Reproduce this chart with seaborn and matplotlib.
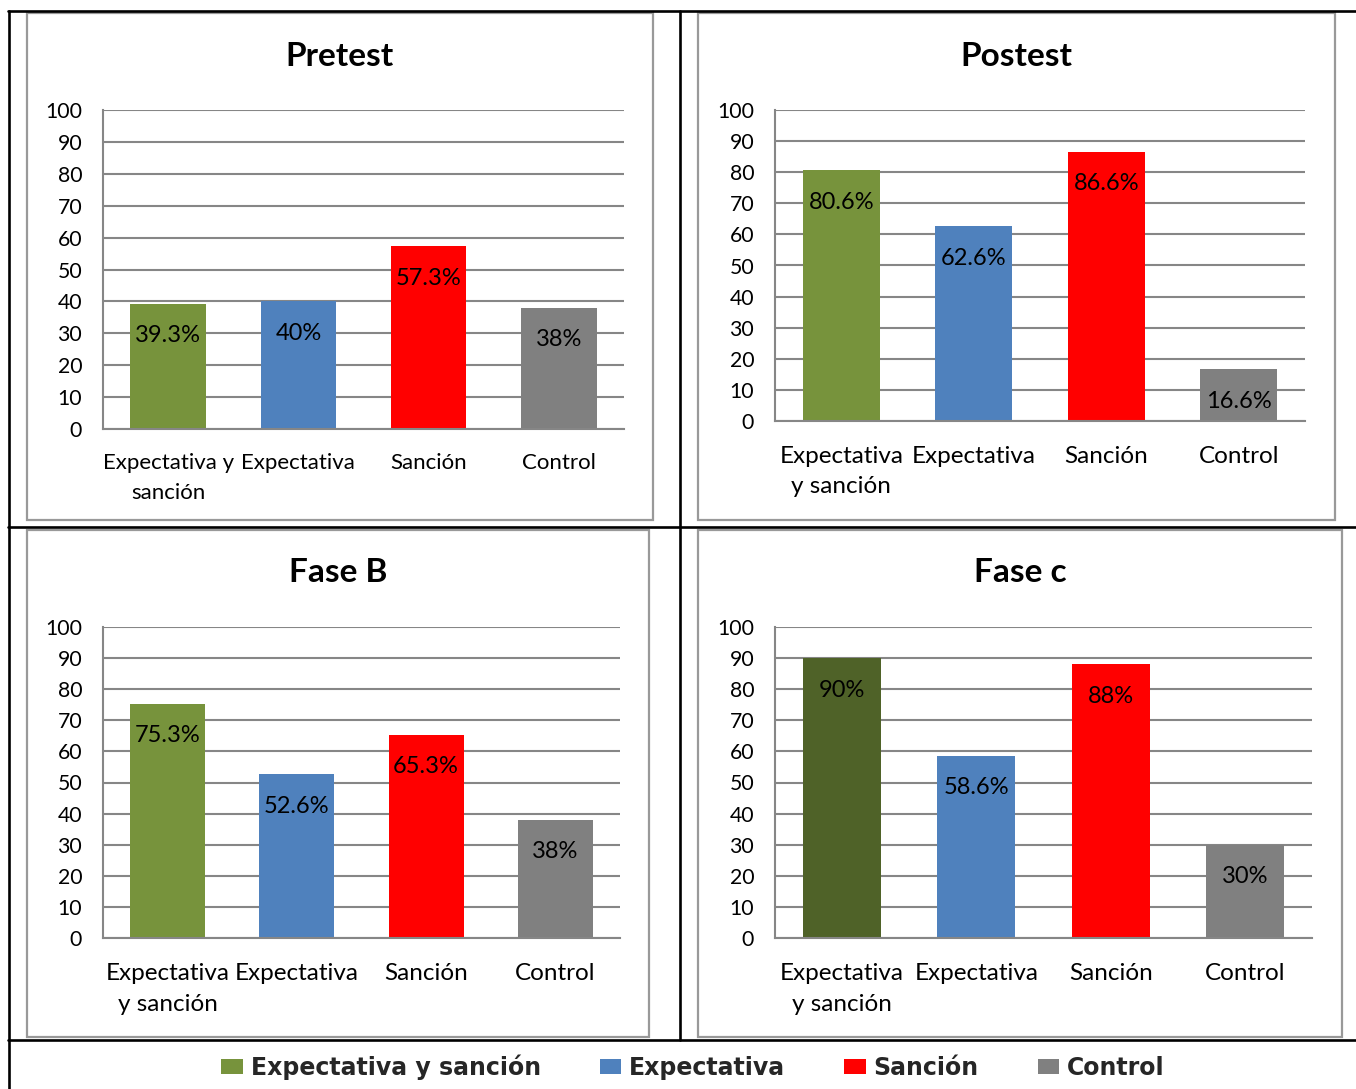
import matplotlib
matplotlib.use("Agg")
import matplotlib.pyplot as plt
from matplotlib.lines import Line2D
from matplotlib.patches import Rectangle, Patch
import seaborn as sns
import pandas as pd

# ---- data ----
groups = ["Expectativa y sanción", "Expectativa", "Sanción", "Control"]
pretest = [39.3, 40, 57.3, 38]
postest = [80.6, 62.6, 86.6, 16.6]
fase_b = [75.3, 52.6, 65.3, 38]
fase_c = [90, 58.6, 88, 30]

labels_pretest = ["Expectativa y\nsanción", "Expectativa", "Sanción", "Control"]
labels_other = ["Expectativa\ny sanción", "Expectativa", "Sanción", "Control"]
yticks = list(range(0, 101, 10))

colors = ["#77933C", "#4F81BD", "#FF0000", "#808080"]
colors_c = ["#4F6228", "#4F81BD", "#FF0000", "#808080"]

sns.set_theme(style="white")
plt.rcParams["font.family"] = ["Lato", "DejaVu Sans"]

W, H = 1356, 1089
fig = plt.figure(figsize=(W / 100, H / 100), dpi=100)
fig.patch.set_facecolor("white")


def fx(x):
    return x / W


def fy(y):
    return 1 - y / H


GRID = "#868686"

panels = [
    # title, values, tick labels, palette, plot box (x0, y0, x1, y1), frame box, title pos,
    # x tick size, x tick pad, line spacing
    ("Pretest", pretest, labels_pretest, colors, (103, 110, 624, 429), (27, 13, 653, 520), (340, 56), 16, 17, 1.62),
    ("Postest", postest, labels_other, colors, (775, 110, 1305, 421), (698, 13, 1335, 520), (1016, 56), 17.5, 18, 1.55),
    ("Fase B", fase_b, labels_other, colors, (103, 627, 620, 938), (27, 530, 649, 1037), (338, 573), 17.5, 18, 1.6),
    ("Fase c", fase_c, labels_other, colors_c, (775, 627, 1312, 938), (698, 530, 1342, 1037), (1020, 573), 17.5, 18, 1.6),
]

for title, vals, ticklabels, pal, box, frame, tpos, tsize, xpad, lsp in panels:
    # gray chart frame
    fig.patches.append(Rectangle((fx(frame[0]), fy(frame[3])),
                                 fx(frame[2]) - fx(frame[0]), fy(frame[1]) - fy(frame[3]),
                                 transform=fig.transFigure, fill=False,
                                 edgecolor="#999999", linewidth=1.6, zorder=1))
    ax = fig.add_axes([fx(box[0]), fy(box[3]), fx(box[2]) - fx(box[0]), fy(box[1]) - fy(box[3])])
    df = pd.DataFrame({"grupo": groups, "valor": vals})
    sns.barplot(data=df, x="grupo", y="valor", hue="grupo", palette=dict(zip(groups, pal)),
                order=groups, hue_order=groups, width=0.58, legend=False, ax=ax,
                edgecolor="none", saturation=1)
    ax.set_ylim(0, 100)
    ax.set_xlim(-0.5, 3.5)
    ax.set_yticks(yticks)
    ax.set_yticklabels([str(t) for t in yticks], fontsize=15.3)
    ax.set_xticks(range(4))
    ax.set_xticklabels(ticklabels, fontsize=tsize, linespacing=lsp)
    ax.tick_params(axis="y", length=0, pad=15, colors="black")
    ax.tick_params(axis="x", length=0, pad=xpad, colors="black")
    ax.set_xlabel("")
    ax.set_ylabel("")
    ax.set_axisbelow(True)
    ax.yaxis.grid(True, color=GRID, linewidth=1.5)
    ax.xaxis.grid(False)
    for s in ["top", "right"]:
        ax.spines[s].set_visible(False)
    for s in ["left", "bottom"]:
        ax.spines[s].set_color(GRID)
        ax.spines[s].set_linewidth(1.5)
    ax.set_facecolor("none")
    for i, v in enumerate(vals):
        ax.annotate(f"{v:g}%", xy=(i, v), xytext=(0, -23), textcoords="offset points",
                    ha="center", va="center", fontsize=17, color="black")
    fig.text(fx(tpos[0]), fy(tpos[1]), title, ha="center", va="center",
             fontsize=24, fontweight="bold", color="black")

# black table rules
rules = [
    ((8, 1356), (11, 11)),
    ((9, 9), (11, 1089)),
    ((680, 680), (11, 1040)),
    ((8, 1356), (527, 527)),
    ((8, 1356), (1040, 1040)),
]
for xs, ys in rules:
    fig.add_artist(Line2D([fx(xs[0]), fx(xs[1])], [fy(ys[0]), fy(ys[1])],
                          transform=fig.transFigure, color="black", linewidth=1.9))

# shared legend
handles = [Patch(facecolor=c, edgecolor="none") for c in colors]
fig.legend(handles, groups, loc="center", bbox_to_anchor=(fx(693), fy(1067)), ncol=4,
           frameon=False, handlelength=0.9, handleheight=0.55,
           handletextpad=0.34, columnspacing=2.5,
           prop={"family": ["DejaVu Sans"], "size": 17, "weight": "bold"})

fig.savefig("out.png", dpi=100, facecolor="white")
